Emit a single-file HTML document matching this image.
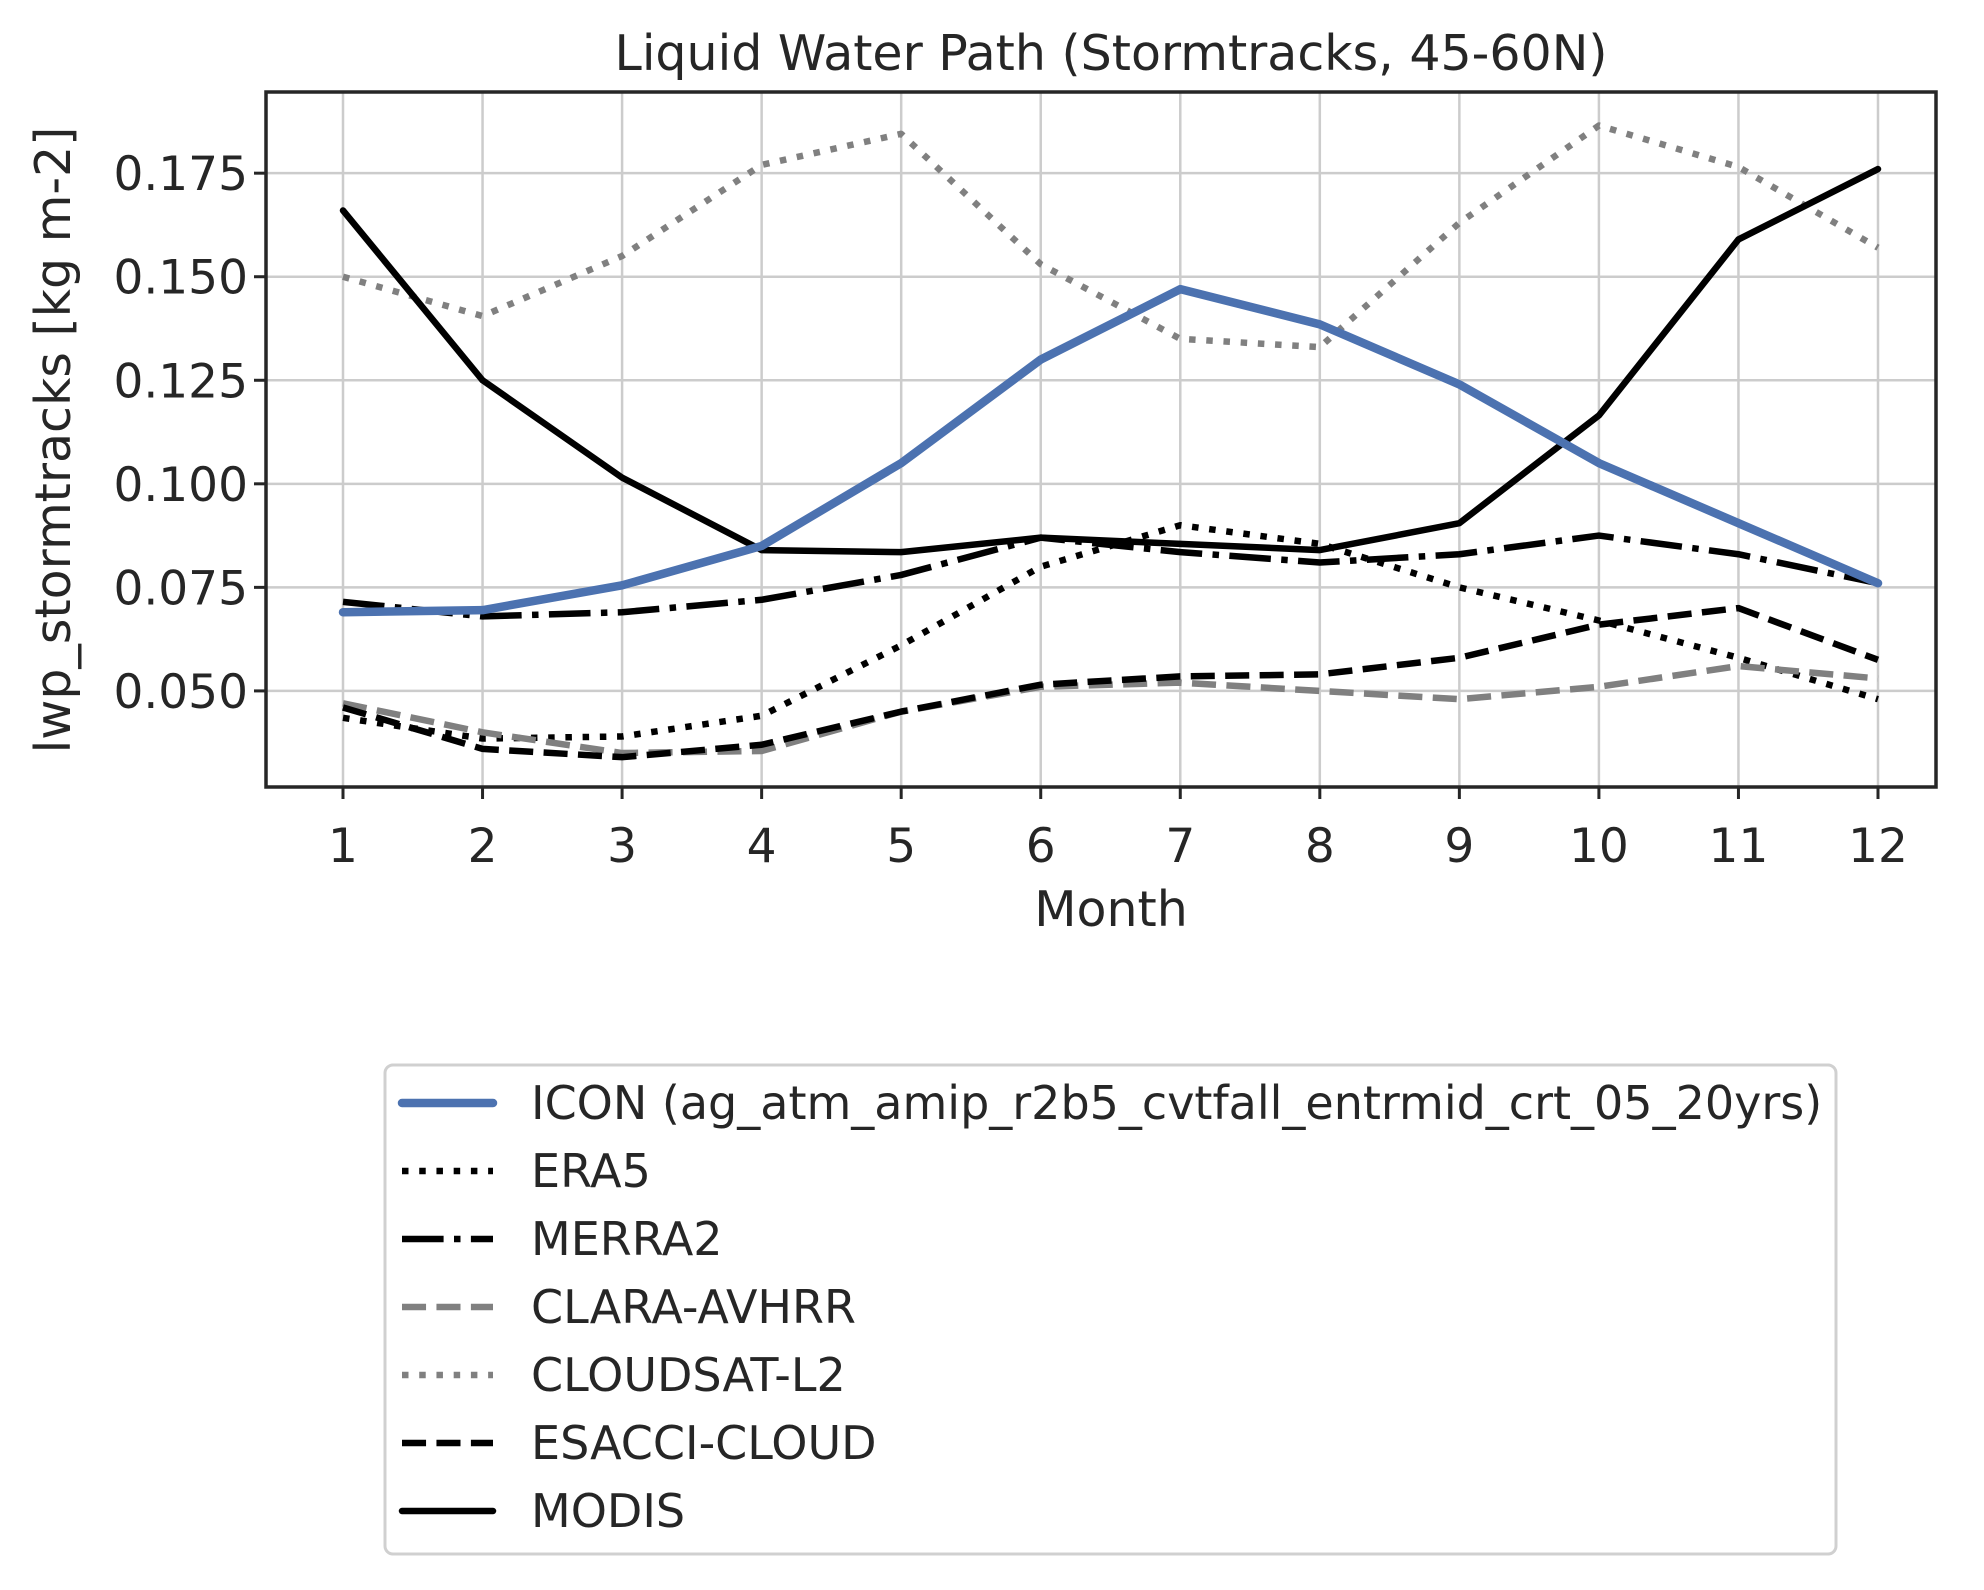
<!DOCTYPE html>
<html><head><meta charset="utf-8"><style>
body{margin:0;background:#fff;}
svg text{font-family:"DejaVu Sans","Liberation Sans",sans-serif;fill:#262626;}
</style></head><body>
<svg id="chart" width="1984" height="1585" viewBox="0 0 1984 1585" xmlns="http://www.w3.org/2000/svg">
<rect width="1984" height="1585" fill="#fff"/>
<text x="1111" y="70" font-size="49" text-anchor="middle">Liquid Water Path (Stormtracks, 45-60N)</text>
<g id="grid"></g>
<g id="series"></g>
<rect x="266" y="92" width="1670" height="695" fill="none" stroke="#262626" stroke-width="3.5"/>
<g id="ticks"></g>
<text x="1111" y="926" font-size="49" text-anchor="middle">Month</text>
<text transform="translate(70,440) rotate(-90)" font-size="49" text-anchor="middle">lwp_stormtracks [kg m-2]</text>
<rect x="385" y="1065" width="1451" height="489" rx="8" fill="#fff" stroke="#d0d0d0" stroke-width="3"/>
<g id="legend"></g>
</svg>
<script>
const months=[1,2,3,4,5,6,7,8,9,10,11,12];
const yTicks=[0.050,0.075,0.100,0.125,0.150,0.175];
const seriesNames=["ICON (ag_atm_amip_r2b5_cvtfall_entrmid_crt_05_20yrs)","ERA5","MERRA2","CLARA-AVHRR","CLOUDSAT-L2","ESACCI-CLOUD","MODIS"];
const icon=[0.069,0.0695,0.0755,0.085,0.105,0.130,0.147,0.1385,0.124,0.105,0.0905,0.076];
const era5=[0.0435,0.0385,0.039,0.044,0.061,0.080,0.090,0.0855,0.075,0.067,0.058,0.048];
const merra2=[0.0715,0.068,0.069,0.072,0.078,0.087,0.0835,0.081,0.083,0.0875,0.083,0.076];
const clara=[0.047,0.040,0.035,0.0355,0.045,0.051,0.052,0.050,0.048,0.051,0.056,0.053];
const cloudsat=[0.150,0.1405,0.155,0.177,0.1845,0.153,0.135,0.133,0.163,0.1865,0.1765,0.157];
const esacci=[0.046,0.036,0.034,0.037,0.045,0.0515,0.0535,0.054,0.058,0.066,0.070,0.0575];
const modis=[0.166,0.125,0.1015,0.084,0.0835,0.087,0.0855,0.084,0.0905,0.1165,0.159,0.176];

const NS="http://www.w3.org/2000/svg";
const L=266,R=1936,T=92,B=787;
const x=m=>343+(m-1)*(1878-343)/11;
const yMin=0.0268,yMax=0.1946;
const y=v=>B-(v-yMin)/(yMax-yMin)*(B-T);
function mk(tag,attrs,parent){const e=document.createElementNS(NS,tag);for(const k in attrs)e.setAttribute(k,attrs[k]);parent.appendChild(e);return e;}
const grid=document.getElementById('grid'),ticks=document.getElementById('ticks'),ser=document.getElementById('series'),leg=document.getElementById('legend');
months.forEach(m=>{
  const g=mk('line',{x1:x(m),x2:x(m),y1:T,y2:B,stroke:'#cccccc','stroke-width':2.5},grid);
  
  
  const t=mk('line',{x1:x(m),x2:x(m),y1:B,y2:B+12,stroke:'#262626','stroke-width':3},ticks);
  
  
  const l=mk('text',{x:x(m),y:862,'font-size':47,'text-anchor':'middle'},ticks);l.textContent=m;
  
  
});
yTicks.forEach(v=>{
  const g=mk('line',{x1:L,x2:R,y1:y(v),y2:y(v),stroke:'#cccccc','stroke-width':2.5},grid);
  
  
  const t=mk('line',{x1:L-12,x2:L,y1:y(v),y2:y(v),stroke:'#262626','stroke-width':3},ticks);
  
  
  const l=mk('text',{x:248,y:y(v)+17,'font-size':47,'text-anchor':'end'},ticks);l.textContent=v.toFixed(3);
  
  
});
const lw=6.5;
const styles=[
 {d:icon,c:'#4c72b0',w:8.5,dash:''},
 {d:era5,c:'#000',w:lw,dash:`${lw},${lw*1.65}`},
 {d:merra2,c:'#000',w:lw,dash:`${lw*6.4},${lw*1.6},${lw},${lw*1.6}`},
 {d:clara,c:'#808080',w:lw,dash:`${lw*3.7},${lw*1.6}`},
 {d:cloudsat,c:'#808080',w:lw,dash:`${lw},${lw*1.65}`},
 {d:esacci,c:'#000',w:lw,dash:`${lw*3.7},${lw*1.6}`},
 {d:modis,c:'#000',w:lw,dash:''}
];
const names=['icon-line','era5-line','merra2-line','clara-avhrr-line','cloudsat-l2-line','esacci-cloud-line','modis-line'];
const drawOrder=[4,6,2,1,3,5,0];
drawOrder.forEach(i=>{
  const s=styles[i];
  const pts=s.d.map((v,j)=>x(months[j])+','+y(v)).join(' ');
  const p=mk('polyline',{points:pts,fill:'none',stroke:s.c,'stroke-width':s.w,'stroke-linejoin':'round','stroke-linecap':s.dash?'butt':'round'},ser);
  if(s.dash)p.setAttribute('stroke-dasharray',s.dash);
  
  
});
seriesNames.forEach((n,i)=>{
  const s=styles[i];const yy=1103+i*68;
  const h=mk('line',{x1:402,x2:493,y1:yy,y2:yy,stroke:s.c,'stroke-width':s.w,'stroke-linecap':s.dash?'butt':'round'},leg);
  if(s.dash)h.setAttribute('stroke-dasharray',s.dash);
  
  
  const t=mk('text',{x:531,y:yy+16,'font-size':46},leg);t.textContent=n;
  
  
});
</script>
</body></html>
